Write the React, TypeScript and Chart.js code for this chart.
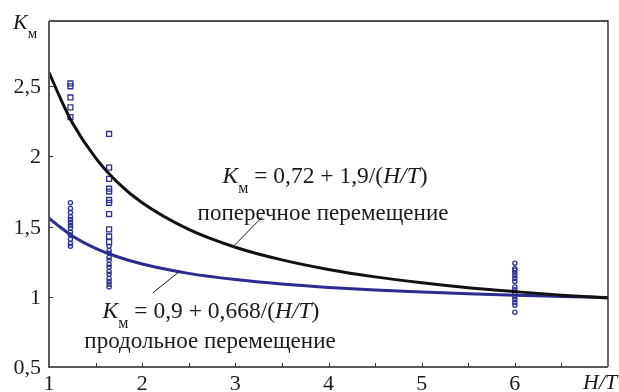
import React, { useEffect, useRef } from "react";
import { Chart, registerables } from "chart.js";

Chart.register(...registerables);

// Column positions (H/T) of measured points
const colX = [1.23, 1.645, 6];

// Squares: поперечное перемещение (measured)
const squaresCol1 = [2.52, 2.5, 2.42, 2.35, 2.28];
const squaresCol2 = [2.16, 1.92, 1.84, 1.77, 1.75, 1.69, 1.67, 1.59, 1.48, 1.43, 1.39];

// Circles: продольное перемещение (measured)
const circlesCol1 = [1.67, 1.63, 1.6, 1.57, 1.55, 1.53, 1.51, 1.49, 1.46, 1.44, 1.41, 1.38, 1.36];
const circlesCol2 = [1.36, 1.33, 1.31, 1.28, 1.26, 1.23, 1.21, 1.18, 1.16, 1.13, 1.11, 1.09, 1.07];
const circlesCol3 = [1.24, 1.2, 1.19, 1.17, 1.15, 1.13, 1.11, 1.07, 1.05, 1.03, 1.0, 0.98, 0.96, 0.94, 0.89];

// Fitted curves
const curveX = [1, 1.125, 1.25, 1.5, 1.75, 2, 2.5, 3, 3.5, 4, 4.5, 5, 5.5, 6, 6.5, 7];
const blackCurve = [2.6, 2.41, 2.24, 1.99, 1.806, 1.67, 1.48, 1.353, 1.263, 1.195, 1.142, 1.1, 1.065, 1.037, 1.012, 0.991];
const blueCurve = [1.56, 1.494, 1.434, 1.345, 1.282, 1.234, 1.167, 1.123, 1.091, 1.067, 1.048, 1.034, 1.021, 1.011, 1.003, 0.995];

// Axis ticks
const xTicks = [1, 2, 3, 4, 5, 6];
const xTickLabels = ["1", "2", "3", "4", "5", "6"];
const yTicks = [0.5, 1, 1.5, 2, 2.5];
const yTickLabels = ["0,5", "1", "1,5", "2", "2,5"];

const FONT = '"Liberation Serif", "Times New Roman", serif';
const BLUE = "#2E3192";
const BLUE_LINE = "#2A2C8E";

type Part = { t: string; it?: boolean; sub?: boolean };

function drawRich(ctx: CanvasRenderingContext2D, parts: Part[], x: number, y: number, size: number, align: "left" | "center") {
  const fontFor = (p: Part) => `${p.it ? "italic " : ""}${p.sub ? Math.round(size * 0.66) : size}px ${FONT}`;
  let w = 0;
  for (const p of parts) {
    ctx.font = fontFor(p);
    w += ctx.measureText(p.t).width;
  }
  let cx = align === "center" ? x - w / 2 : x;
  ctx.textAlign = "left";
  ctx.textBaseline = "alphabetic";
  for (const p of parts) {
    ctx.font = fontFor(p);
    ctx.fillText(p.t, cx, p.sub ? y + size * 0.42 : y);
    cx += ctx.measureText(p.t).width;
  }
}

const framePlugin = {
  id: "frame",
  afterDraw(chart: any) {
    const { ctx, chartArea: a, scales } = chart;
    const xs = scales.x;
    const ys = scales.y;
    ctx.save();
    // top & right border
    ctx.strokeStyle = "#1a1a1a";
    ctx.lineWidth = 1.3;
    ctx.beginPath();
    ctx.moveTo(a.left, a.top);
    ctx.lineTo(a.right, a.top);
    ctx.lineTo(a.right, a.bottom);
    ctx.stroke();
    // left & bottom axes
    ctx.strokeStyle = "#5a5a5a";
    ctx.lineWidth = 2;
    ctx.beginPath();
    ctx.moveTo(a.left, a.top);
    ctx.lineTo(a.left, a.bottom);
    ctx.lineTo(a.right, a.bottom);
    ctx.stroke();
    // x ticks (inward), every 0.5
    ctx.strokeStyle = "#333";
    ctx.lineWidth = 1;
    ctx.beginPath();
    for (let v = 1.5; v < 7; v += 0.5) {
      const px = Math.round(xs.getPixelForValue(v)) + 0.5;
      ctx.moveTo(px, a.bottom);
      ctx.lineTo(px, a.bottom - 4);
    }
    for (const v of yTicks.slice(1)) {
      const py = Math.round(ys.getPixelForValue(v)) + 0.5;
      ctx.moveTo(a.left, py);
      ctx.lineTo(a.left + 4, py);
    }
    ctx.stroke();

    ctx.fillStyle = "#1a1a1a";
    // x labels
    ctx.font = `22px ${FONT}`;
    ctx.textAlign = "center";
    ctx.textBaseline = "alphabetic";
    xTicks.forEach((v, i) => {
      ctx.fillText(xTickLabels[i], xs.getPixelForValue(v), 390);
    });
    // y labels
    ctx.textAlign = "right";
    yTicks.forEach((v, i) => {
      ctx.fillText(yTickLabels[i], 41, ys.getPixelForValue(v) + 7);
    });
    // axis titles
    drawRich(ctx, [{ t: "H/T", it: true }], 583, 389, 22, "left");
    drawRich(ctx, [{ t: "K", it: true }, { t: "м", sub: true }], 13, 29, 22, "left");

    // annotations
    drawRich(
      ctx,
      [{ t: "K", it: true }, { t: "м", sub: true }, { t: " = 0,72 + 1,9/(" }, { t: "H/T", it: true }, { t: ")" }],
      325, 183, 23.5, "center"
    );
    drawRich(ctx, [{ t: "поперечное перемещение" }], 323, 220, 23, "center");
    drawRich(
      ctx,
      [{ t: "K", it: true }, { t: "м", sub: true }, { t: " = 0,9 + 0,668/(" }, { t: "H/T", it: true }, { t: ")" }],
      211, 318, 23.5, "center"
    );
    drawRich(ctx, [{ t: "продольное перемещение" }], 210, 348, 23, "center");

    // leader lines
    ctx.strokeStyle = "#1a1a1a";
    ctx.lineWidth = 1;
    ctx.beginPath();
    ctx.moveTo(xs.getPixelForValue(2.98), ys.getPixelForValue(1.36));
    ctx.lineTo(xs.getPixelForValue(3.29), ys.getPixelForValue(1.57));
    ctx.moveTo(xs.getPixelForValue(2.118), ys.getPixelForValue(1.03));
    ctx.lineTo(xs.getPixelForValue(2.41), ys.getPixelForValue(1.186));
    ctx.stroke();
    ctx.restore();
  },
};

function col(x: number, ys: number[]) {
  return ys.map((y) => ({ x, y }));
}

export default function App() {
  const ref = useRef<HTMLCanvasElement | null>(null);
  useEffect(() => {
    if (!ref.current) return;
    const pointDs = (data: any[], style: string, r: number) => ({
      data,
      showLine: false,
      pointStyle: style,
      pointRadius: r,
      pointBorderColor: BLUE,
      pointBackgroundColor: "rgba(255,255,255,0)",
      pointBorderWidth: 1.3,
    });
    const chart = new Chart(ref.current, {
      type: "scatter",
      data: {
        datasets: [
          {
            data: curveX.map((x, i) => ({ x, y: blackCurve[i] })),
            showLine: true,
            borderColor: "#111",
            borderWidth: 3,
            pointRadius: 0,
            cubicInterpolationMode: "monotone",
          } as any,
          {
            data: curveX.map((x, i) => ({ x, y: blueCurve[i] })),
            showLine: true,
            borderColor: BLUE_LINE,
            borderWidth: 3,
            pointRadius: 0,
            cubicInterpolationMode: "monotone",
          } as any,
          pointDs(col(colX[0], squaresCol1), "rect", 3.5),
          pointDs(col(colX[1], squaresCol2), "rect", 3.5),
          pointDs(col(colX[0], circlesCol1), "circle", 2.1),
          pointDs(col(colX[1], circlesCol2), "circle", 2.1),
          pointDs(col(colX[2], circlesCol3), "circle", 2.1),
        ],
      },
      options: {
        animation: false,
        responsive: false,
        layout: { padding: { left: 49, right: 11, top: 21, bottom: 25 } },
        plugins: { legend: { display: false }, tooltip: { enabled: false } },
        scales: {
          x: { type: "linear", min: 1, max: 7, display: false },
          y: { type: "linear", min: 0.5, max: 2.965, display: false },
        },
      },
      plugins: [framePlugin],
    });
    return () => chart.destroy();
  }, []);
  return (
    <div style={{ position: "absolute", left: 0, top: 0, width: 619, height: 392, background: "#fff" }}>
      <canvas ref={ref} width={619} height={392} style={{ display: "block" }} />
    </div>
  );
}
